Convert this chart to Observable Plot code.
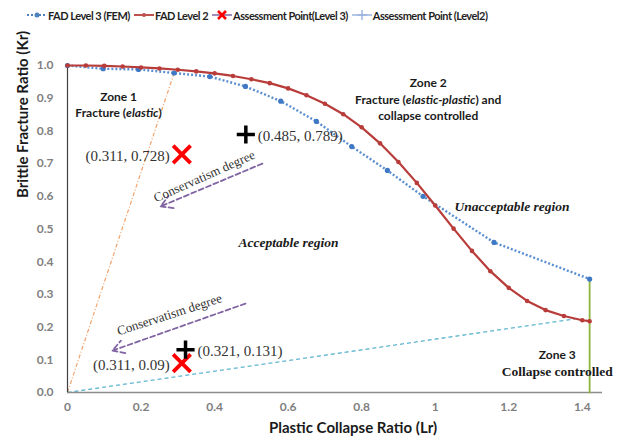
<!DOCTYPE html>
<html><head><meta charset="utf-8">
<script src="https://cdn.jsdelivr.net/npm/d3@7"></script>
<script src="https://cdn.jsdelivr.net/npm/@observablehq/plot@0.6"></script>
<style>
body{margin:0;background:#fff;}
#legend{height:30px;display:flex;align-items:center;padding-left:27px;font:bold 11px Lato, sans-serif;letter-spacing:-0.5px;color:#1f1f1f;white-space:nowrap;}
.item{display:flex;align-items:center;margin-right:4px}
.item svg{margin-right:1px}
</style></head><body>
<div id="legend"></div>
<div id="chart"></div>
<script>
// ---- data ----
const level2Lr = [0,0.05,0.10,0.15,0.20,0.25,0.30,0.35,0.40,0.45,0.50,0.55,0.60,0.65,0.70,0.75,0.80,0.85,0.90,0.95,1.00,1.05,1.10,1.15,1.20,1.25,1.30,1.35,1.40,1.42];
const level2Kr = [1.000,1.000,0.999,0.997,0.994,0.991,0.987,0.982,0.976,0.968,0.958,0.946,0.930,0.909,0.883,0.851,0.811,0.762,0.705,0.641,0.572,0.501,0.433,0.371,0.320,0.280,0.252,0.234,0.221,0.218];
const level3Lr = [0,0.097,0.193,0.290,0.387,0.484,0.580,0.677,0.773,0.870,0.967,1.160,1.420];
const level3Kr = [1.000,0.990,0.988,0.977,0.966,0.936,0.891,0.829,0.752,0.679,0.600,0.459,0.347];
const pointsL3 = [{lr:0.311, kr:0.728, label:"(0.311, 0.728)"},{lr:0.311, kr:0.09, label:"(0.311, 0.09)"}];
const pointsL2 = [{lr:0.485, kr:0.789, label:"(0.485, 0.789)"},{lr:0.321, kr:0.131, label:"(0.321, 0.131)"}];
const elasticLine = [{lr:0, kr:0},{lr:0.290, kr:0.977}];
const collapseLine = [{lr:0, kr:0},{lr:1.38, kr:0.225}];
const cutoffLine = [{lr:1.42, kr:0},{lr:1.42, kr:0.347}];
const arrows = [{x1:0.530,y1:0.700,x2:0.253,y2:0.569},{x1:0.484,y1:0.272,x2:0.122,y2:0.128}];
const arrowLabels = [{lr:0.372, kr:0.661, angle:-24, text:"Conservatism degree"},{lr:0.277, kr:0.238, angle:-18, text:"Conservatism degree"}];
const zoneBold = [
  {lr:0.139, kr:0.902, text:"Zone 1"},{lr:0.139, kr:0.853, text:"Fracture (elastic)"},
  {lr:0.981, kr:0.945, text:"Zone 2"},{lr:0.981, kr:0.893, text:"Fracture (elastic-plastic) and"},{lr:0.981, kr:0.844, text:"collapse controlled"},
  {lr:1.332, kr:0.113, text:"Zone 3"}];
const serifNotes = [{lr:1.332, kr:0.064, text:"Collapse controlled"}];
const regions = [{lr:1.209, kr:0.567, text:"Unacceptable region"},{lr:0.601, kr:0.457, text:"Acceptable region"}];
const xTicks = [0,0.2,0.4,0.6,0.8,1,1.2,1.4];
const yTicks = [0,0.1,0.2,0.3,0.4,0.5,0.6,0.7,0.8,0.9,1.0];
const legendItems = ["FAD Level 3 (FEM)","FAD Level 2","Assessment Point(Level 3)","Assessment Point (Level2)"];

const level2 = level2Lr.map((lr,i)=>({lr, kr:level2Kr[i]}));
const level3 = level3Lr.map((lr,i)=>({lr, kr:level3Kr[i]}));

const RED="#c0504d", BLUE="#4f81bd", PURPLE="#8064a2";
const serif = "'Liberation Serif', 'Times New Roman', serif";

// legend
const sym = [
  `<svg width="20" height="12"><line x1="0" y1="6" x2="20" y2="6" stroke="${BLUE}" stroke-width="2" stroke-dasharray="2,2"/><circle cx="10" cy="6" r="2.5" fill="${BLUE}"/></svg>`,
  `<svg width="20" height="12"><line x1="0" y1="6" x2="20" y2="6" stroke="${RED}" stroke-width="2"/><circle cx="10" cy="6" r="2" fill="${RED}"/></svg>`,
  `<svg width="20" height="12"><line x1="0" y1="6" x2="20" y2="6" stroke="${PURPLE}" stroke-width="1.5"/><path d="M6,2L14,10M14,2L6,10" stroke="#ff0000" stroke-width="2.5"/></svg>`,
  `<svg width="20" height="12"><line x1="0" y1="6" x2="20" y2="6" stroke="#9db4e0" stroke-width="1.5"/><path d="M10,1V11M5,6H15" stroke="#9db4e0" stroke-width="1.5"/></svg>`
];
document.getElementById("legend").innerHTML = legendItems.map((t,i)=>`<span class="item">${sym[i]}${t}</span>`).join("");

const plot = Plot.plot({
  width:618, height:412,
  marginLeft:67, marginRight:16, marginTop:35, marginBottom:50,
  x:{domain:[0,1.455]}, y:{domain:[0,1]},
  style:{fontFamily:"Lato, sans-serif", overflow:"visible", background:"#fff"},
  marks:[
    Plot.axisX({ticks:xTicks, tickFormat:d=>String(d), tickSize:0, tickPadding:10, label:null}),
    Plot.axisY({ticks:yTicks, tickFormat:d3.format(".1f"), tickSize:0, tickPadding:14, label:null}),
    Plot.line(elasticLine, {x:"lr", y:"kr", stroke:"#f2a36b", strokeWidth:1.2, strokeDasharray:"4,2,1,2", strokeLinecap:"butt"}),
    Plot.line(collapseLine, {x:"lr", y:"kr", stroke:"#5fb6cf", strokeWidth:1.3, strokeDasharray:"4,3", strokeLinecap:"butt"}),
    Plot.ruleY([0], {stroke:"#8c8c8c", strokeWidth:1.5}),
    Plot.ruleX([0], {stroke:"#404040", strokeWidth:1.2}),
    Plot.line(cutoffLine, {x:"lr", y:"kr", stroke:"#8db43e", strokeWidth:1.8}),
    Plot.line(level3, {x:"lr", y:"kr", stroke:"#5b8fd0", strokeWidth:2.4, strokeDasharray:"2,2", strokeLinecap:"butt"}),
    Plot.dot(level3, {x:"lr", y:"kr", r:2.6, fill:"#3f78c4"}),
    Plot.line(level2, {x:"lr", y:"kr", stroke:"#b83c3a", strokeWidth:2.2}),
    Plot.dot(level2, {x:"lr", y:"kr", r:2.3, fill:"#b83c3a"}),
    Plot.arrow(arrows, {x1:"x1", y1:"y1", x2:"x2", y2:"y2", stroke:PURPLE, strokeWidth:1.8, strokeDasharray:"5,3", headLength:11}),
    Plot.text(arrowLabels, {x:"lr", y:"kr", text:"text", rotate:"angle", fontFamily:serif, fontSize:13, fill:"#333"}),
    Plot.dot(pointsL3, {x:"lr", y:"kr", symbol:"times", r:8, stroke:"#ff0000", strokeWidth:3.8}),
    Plot.dot(pointsL2, {x:"lr", y:"kr", symbol:"plus", r:5.9, stroke:"#000", strokeWidth:3.5}),
    Plot.text(pointsL3, {x:"lr", y:"kr", text:"label", textAnchor:"end", dx:-12, dy:2, fontFamily:serif, fontSize:15, fill:"#333"}),
    Plot.text(pointsL2, {x:"lr", y:"kr", text:"label", textAnchor:"start", dx:12, dy:2, fontFamily:serif, fontSize:15, fill:"#333"}),
    Plot.text(zoneBold, {x:"lr", y:"kr", text:"text", fontWeight:"bold", fontSize:12, fill:"#1a1a1a"}),
    Plot.text(serifNotes, {x:"lr", y:"kr", text:"text", fontFamily:serif, fontWeight:"bold", fontSize:13.5, fill:"#1a1a1a"}),
    Plot.text(regions, {x:"lr", y:"kr", text:"text", fontFamily:serif, fontWeight:"bold", fontStyle:"italic", fontSize:13.5, fill:"#1a1a1a"}),
    Plot.text(["Plastic Collapse Ratio (Lr)"], {text:d=>d, frameAnchor:"bottom", dy:40, dx:18, fontWeight:"bold", fontSize:15, fill:"#1a1a1a"}),
    Plot.text(["Brittle Fracture Ratio (Kr)"], {text:d=>d, frameAnchor:"left", dx:-44, dy:-31, rotate:-90, fontWeight:"bold", fontSize:15, fill:"#1a1a1a"})
  ]
});
document.getElementById("chart").appendChild(plot);

// tick label styling
d3.select(plot).selectAll("g[aria-label='x-axis tick label'], g[aria-label='y-axis tick label']")
  .attr("fill","#7f7f7f").attr("font-weight","bold").attr("font-size","12");

// italic parts inside text
const italicParts = {"Fracture (elastic)":["Fracture (","elastic",")"], "Fracture (elastic-plastic) and":["Fracture (","elastic-plastic",") and"]};
d3.select(plot).selectAll("text").each(function(){
  const t = this.textContent;
  if (italicParts[t]) {
    const el = d3.select(this); el.text("");
    italicParts[t].forEach((p,i)=>el.append("tspan").text(p).style("font-style", i===1?"italic":"normal"));
  }
});
</script></body></html>
